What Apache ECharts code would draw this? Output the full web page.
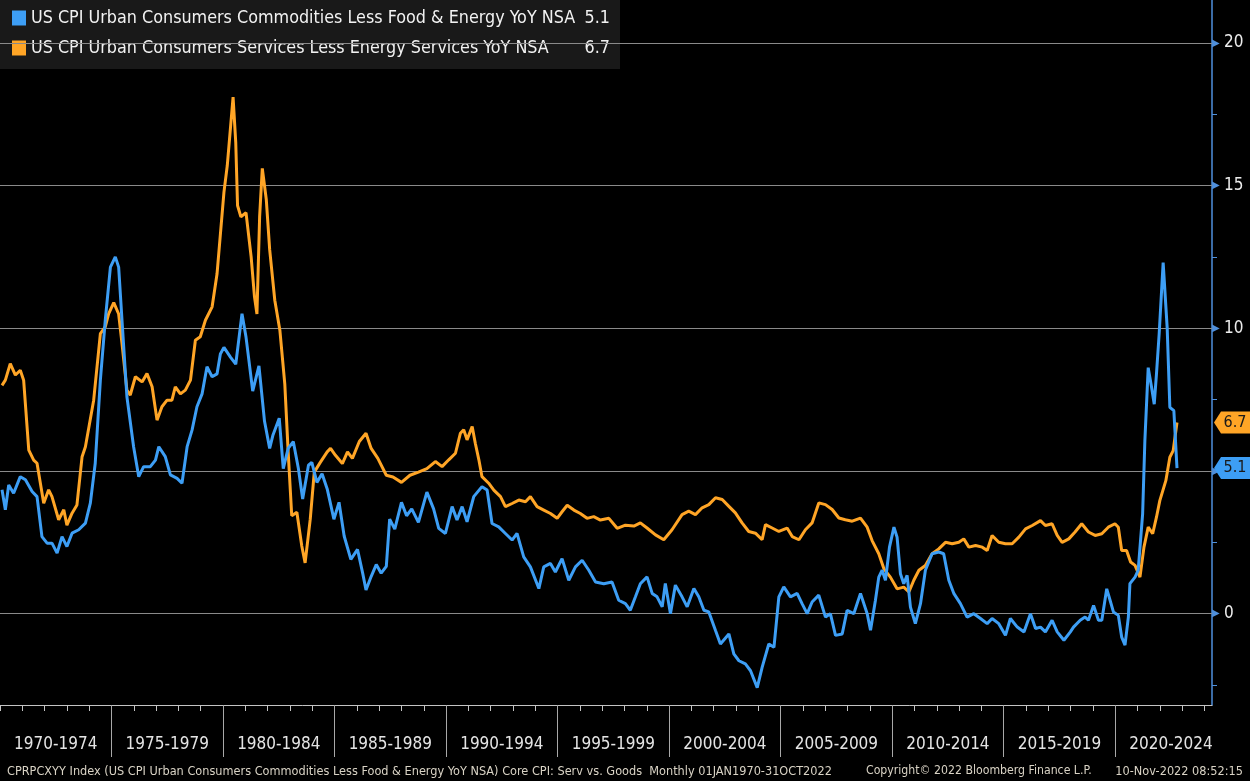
<!DOCTYPE html>
<html>
<head>
<meta charset="utf-8">
<title>Core CPI: Serv vs. Goods</title>
<script src="https://cdn.jsdelivr.net/npm/echarts@6/dist/echarts.min.js"></script>
<style>
  html, body { margin: 0; padding: 0; background: #000; }
  #chart { width: 1250px; height: 781px; }
</style>
</head>
<body>
<div id="chart"></div>
<script>
var goodsName = 'US CPI Urban Consumers Commodities Less Food & Energy YoY NSA';
var servName = 'US CPI Urban Consumers Services Less Energy Services YoY NSA';

var periodLabels = ['1970-1974', '1975-1979', '1980-1984', '1985-1989', '1990-1994', '1995-1999',
    '2000-2004', '2005-2009', '2010-2014', '2015-2019', '2020-2024'];
var yTicks = [0, 5, 10, 15, 20];
var yMinorTicks = [-2.5, 2.5, 7.5, 12.5, 17.5];

// [decimal year, YoY %]
var goods = [
    [1970.09,4.34],[1970.24,3.64],[1970.39,4.51],[1970.61,4.22],[1970.91,4.8],[1971.14,4.69],[1971.44,4.28],[1971.66,4.1],
    [1971.88,2.7],[1972.11,2.47],[1972.33,2.47],[1972.56,2.12],[1972.78,2.7],[1973.0,2.35],[1973.23,2.82],[1973.53,2.94],
    [1973.83,3.17],[1974.05,3.87],[1974.27,5.27],[1974.5,8.18],[1974.72,10.28],[1974.95,12.14],[1975.17,12.5],[1975.32,12.14],
    [1975.47,10.28],[1975.69,7.6],[1975.99,5.85],[1976.22,4.8],[1976.44,5.15],[1976.74,5.15],[1976.97,5.38],[1977.12,5.85],
    [1977.41,5.5],[1977.64,4.86],[1977.94,4.74],[1978.16,4.57],[1978.39,5.85],[1978.61,6.43],[1978.83,7.25],[1979.06,7.7],
    [1979.28,8.65],[1979.51,8.3],[1979.73,8.4],[1979.88,9.1],
    [1980.04,9.33],[1980.34,8.98],[1980.57,8.74],[1980.85,10.51],[1981.03,9.69],[1981.33,7.8],[1981.61,8.68],[1981.86,6.74],
    [1982.09,5.79],[1982.24,6.26],[1982.52,6.85],[1982.7,5.08],[1982.92,5.79],[1983.15,6.03],[1983.38,5.08],[1983.57,4.02],
    [1983.83,5.2],[1983.98,5.3],[1984.21,4.6],[1984.44,4.9],[1984.67,4.37],[1984.97,3.31],[1985.2,3.9],[1985.43,2.72],
    [1985.73,1.9],[1986.03,2.25],[1986.26,1.42],[1986.41,0.83],[1986.64,1.3],[1986.87,1.72],[1987.09,1.42],[1987.32,1.66],
    [1987.47,3.31],[1987.7,2.96],[1988.0,3.9],[1988.23,3.43],[1988.46,3.67],[1988.76,3.2],[1989.14,4.26],[1989.44,3.67],
    [1989.67,2.99],[1989.97,2.81],[1990.27,3.75],[1990.49,3.28],[1990.72,3.75],[1990.94,3.22],[1991.24,4.1],[1991.61,4.45],
    [1991.84,4.33],[1992.06,3.16],[1992.36,3.04],[1992.66,2.81],[1992.96,2.58],[1993.18,2.81],[1993.48,1.99],[1993.78,1.64],
    [1994.16,0.88],[1994.38,1.64],[1994.68,1.76],[1994.9,1.46],[1995.2,1.93],[1995.5,1.17],[1995.8,1.64],[1996.1,1.87],
    [1996.4,1.52],[1996.7,1.11],[1997.07,1.05],[1997.44,1.11],[1997.74,0.47],[1998.04,0.35],[1998.26,0.12],[1998.49,0.59],
    [1998.71,1.05],
    [1999.01,1.29],[1999.24,0.71],[1999.46,0.59],[1999.69,0.24],[1999.83,1.06],[2000.06,0.0],[2000.28,1.0],[2000.58,0.59],
    [2000.81,0.24],[2001.11,0.88],[2001.33,0.59],[2001.56,0.12],[2001.78,0.06],[2002.08,-0.59],[2002.3,-1.06],[2002.68,-0.71],
    [2002.9,-1.41],[2003.13,-1.65],[2003.42,-1.76],[2003.65,-2.0],[2003.95,-2.59],[2004.17,-1.88],[2004.47,-1.06],[2004.7,-1.18],
    [2004.92,0.59],[2005.14,0.94],[2005.44,0.59],[2005.74,0.71],[2005.96,0.35],[2006.19,0.0],[2006.41,0.41],[2006.71,0.65],
    [2007.01,-0.12],[2007.23,0.0],[2007.46,-0.76],[2007.76,-0.71],[2007.98,0.12],[2008.28,0.0],[2008.58,0.71],
    [2008.88,0.0],[2009.03,-0.58],[2009.25,0.47],[2009.4,1.28],[2009.55,1.52],[2009.7,1.17],[2009.88,2.33],[2010.08,3.03],
    [2010.22,2.68],[2010.37,1.4],[2010.52,1.05],[2010.67,1.34],[2010.82,0.23],[2011.04,-0.35],[2011.27,0.35],[2011.49,1.52],
    [2011.79,2.1],[2012.09,2.16],[2012.31,2.1],[2012.54,1.17],[2012.77,0.7],[2013.06,0.35],[2013.36,-0.12],[2013.66,0.0],
    [2013.96,-0.17],[2014.26,-0.35],[2014.48,-0.17],[2014.78,-0.35],[2015.08,-0.76],[2015.3,-0.17],[2015.61,-0.47],[2015.91,-0.64],
    [2016.2,0.0],[2016.43,-0.52],[2016.65,-0.47],[2016.87,-0.64],[2017.17,-0.23],[2017.4,-0.64],[2017.7,-0.93],[2017.99,-0.64],
    [2018.13,-0.47],[2018.43,-0.23],[2018.65,-0.12],[2018.8,-0.23],[2019.03,0.29],[2019.25,-0.23],[2019.4,-0.23],[2019.62,0.87],
    [2019.77,0.47],[2019.92,0.06],[2020.14,-0.06],[2020.29,-0.82],[2020.44,-1.1],[2020.59,-0.12],[2020.66,1.05],[2020.89,1.28],
    [2021.03,1.52],[2021.23,3.5],[2021.33,6.06],[2021.48,8.62],[2021.63,7.93],[2021.75,7.34],[2021.85,8.39],[2021.97,9.79],
    [2022.15,12.3],[2022.33,10.02],[2022.45,7.23],[2022.63,7.11],[2022.77,5.1]
];

var services = [
    [1970.09,8.0],[1970.24,8.18],[1970.46,8.76],[1970.69,8.36],[1970.91,8.53],[1971.06,8.18],[1971.29,5.73],[1971.51,5.38],
    [1971.66,5.27],[1971.96,3.87],[1972.18,4.34],[1972.33,4.1],[1972.63,3.29],[1972.86,3.64],[1973.0,3.1],[1973.23,3.52],
    [1973.45,3.81],[1973.68,5.5],[1973.83,5.85],[1974.2,7.48],[1974.5,9.81],[1974.72,10.05],[1974.87,10.5],[1975.1,10.9],
    [1975.32,10.5],[1975.47,9.46],[1975.69,7.83],[1975.84,7.66],[1976.07,8.3],[1976.37,8.12],[1976.59,8.41],[1976.82,7.95],
    [1977.04,6.78],[1977.26,7.25],[1977.49,7.48],[1977.71,7.48],[1977.86,7.95],[1978.09,7.7],[1978.31,7.83],[1978.54,8.18],
    [1978.76,9.58],[1978.98,9.7],[1979.21,10.28],[1979.51,10.75],[1979.73,11.9],
    [1980.04,14.76],[1980.19,15.7],[1980.45,18.1],[1980.57,16.5],[1980.65,14.3],[1980.8,13.9],[1981.03,14.05],[1981.26,12.5],
    [1981.41,11.1],[1981.52,10.5],[1981.64,13.9],[1981.76,15.6],[1981.94,14.5],[1982.09,12.76],[1982.32,10.98],[1982.55,9.92],
    [1982.77,8.03],[1982.92,5.67],[1983.08,3.43],[1983.31,3.55],[1983.53,2.37],[1983.68,1.78],[1983.91,3.31],[1984.09,4.96],
    [1984.36,5.3],[1984.67,5.67],[1984.82,5.79],[1985.04,5.55],[1985.35,5.26],[1985.58,5.67],[1985.8,5.44],[1986.11,6.03],
    [1986.41,6.32],[1986.64,5.79],[1986.94,5.44],[1987.32,4.85],[1987.62,4.79],[1988.0,4.6],[1988.38,4.85],[1988.76,4.96],
    [1989.14,5.08],
    [1989.52,5.33],[1989.82,5.15],[1990.12,5.39],[1990.42,5.62],[1990.64,6.32],[1990.79,6.44],[1990.94,6.09],[1991.17,6.56],
    [1991.31,5.97],[1991.47,5.39],[1991.61,4.8],[1991.91,4.57],[1992.14,4.33],[1992.44,4.1],[1992.66,3.75],[1992.96,3.86],
    [1993.26,3.98],[1993.56,3.92],[1993.78,4.1],[1994.08,3.75],[1994.38,3.63],[1994.68,3.51],[1994.98,3.34],[1995.2,3.57],
    [1995.43,3.8],[1995.73,3.63],[1996.02,3.51],[1996.32,3.34],[1996.62,3.4],[1996.92,3.28],[1997.3,3.34],[1997.67,2.99],
    [1998.04,3.1],[1998.42,3.07],[1998.71,3.18],
    [1999.01,3.0],[1999.39,2.76],[1999.76,2.59],[2000.13,2.94],[2000.58,3.47],[2000.88,3.59],[2001.18,3.47],[2001.48,3.71],
    [2001.78,3.82],[2002.08,4.06],[2002.38,4.0],[2002.68,3.76],[2002.97,3.53],[2003.27,3.18],[2003.57,2.88],[2003.87,2.82],
    [2004.17,2.59],[2004.32,3.12],[2004.62,3.0],[2004.92,2.88],[2005.29,3.0],[2005.52,2.7],[2005.82,2.59],[2006.11,2.94],
    [2006.41,3.18],[2006.71,3.88],[2007.01,3.82],[2007.31,3.65],[2007.61,3.35],[2007.9,3.29],[2008.21,3.24],[2008.58,3.35],
    [2008.88,3.03],[2009.1,2.56],[2009.4,2.1],[2009.63,1.57],[2009.92,1.28],[2010.22,0.87],[2010.52,0.93],[2010.75,0.76],
    [2010.97,1.17],[2011.2,1.52],[2011.49,1.69],[2011.79,2.1],[2012.09,2.27],[2012.39,2.5],[2012.69,2.45],[2012.99,2.5],
    [2013.21,2.62],[2013.44,2.33],[2013.74,2.39],[2014.04,2.33],[2014.26,2.21],[2014.48,2.74],[2014.78,2.5],[2015.08,2.45],
    [2015.38,2.45],[2015.68,2.68],[2015.98,2.97],[2016.28,3.09],[2016.65,3.26],[2016.87,3.09],[2017.17,3.15],[2017.4,2.74],
    [2017.62,2.5],[2017.92,2.62],
    [2018.2,2.86],[2018.5,3.15],[2018.8,2.86],[2019.1,2.74],[2019.4,2.8],[2019.69,3.03],[2019.99,3.15],[2020.14,3.03],
    [2020.29,2.21],[2020.51,2.21],[2020.69,1.81],[2020.89,1.69],[2021.11,1.28],[2021.29,2.33],[2021.48,3.03],[2021.68,2.8],
    [2021.85,3.38],[2022.0,3.96],[2022.27,4.66],[2022.45,5.48],[2022.6,5.71],[2022.77,6.7]
];

var footerLeft = 'CPRPCXYY Index (US CPI Urban Consumers Commodities Less Food & Energy YoY NSA) Core CPI: Serv vs. Goods  Monthly 01JAN1970-31OCT2022';
var footerMid = 'Copyright\u00A9 2022 Bloomberg Finance L.P.';
var footerRight = '10-Nov-2022 08:52:15';

var BLUE = '#3d9ef5';
var ORANGE = '#ffa526';
var AXISBLUE = '#4f8fdc';
var FONT = '"DejaVu Sans Condensed", "Liberation Sans Narrow", sans-serif';

var xMin = 1970, xMax = 2024.34;
var yearTicks = [];
for (var y = 1970; y <= 2024; y++) yearTicks.push(y);
var blockStarts = periodLabels.map(function (p) { return +p.slice(0, 4); });
var blockMids = blockStarts.map(function (s) { return s + 2.5; });
var separators = blockStarts.slice(1);

var lastGoods = goods[goods.length - 1][1];
var lastServ = services[services.length - 1][1];
var legendValues = {};
legendValues[goodsName] = lastGoods.toFixed(1);
legendValues[servName] = lastServ.toFixed(1);

function tag(color, value) {
    return {
        symbol: 'path://M0,11 L7,0 L36,0 L36,22 L7,22 Z',
        symbolSize: [36, 22],
        symbolOffset: [20, 0],
        silent: true,
        itemStyle: { color: color },
        label: {
            show: true, position: 'inside', offset: [3, 0],
            color: '#1a1a1a', fontSize: 16, fontFamily: FONT,
            formatter: value.toFixed(1)
        },
        data: [{ coord: [xMax, value], value: value }]
    };
}

var footStyle = { color: '#d9d3c5', fontSize: 12.6, fontWeight: 'normal', fontFamily: FONT };
var midFootStyle = { color: '#d9d3c5', fontSize: 12.2, fontWeight: 'normal', fontFamily: FONT };

var chart = echarts.init(document.getElementById('chart'));
chart.setOption({
    backgroundColor: '#000',
    animation: false,
    title: [
        { text: footerLeft, left: 2, top: 760, textStyle: footStyle },
        { text: footerMid, left: 861, top: 760, textStyle: midFootStyle },
        { text: footerRight, right: 2, top: 760, textStyle: footStyle }
    ],
    legend: {
        left: 0, top: 0,
        orient: 'vertical',
        backgroundColor: '#191919',
        padding: [9, 10, 12, 12],
        itemGap: 12,
        itemWidth: 14, itemHeight: 15,
        icon: 'rect',
        selectedMode: false,
        data: [goodsName, servName],
        formatter: function (name) {
            return '{n|' + name + '}{v|' + legendValues[name] + '}';
        },
        textStyle: {
            color: '#f2f2f2', fontSize: 17.8, fontFamily: FONT,
            rich: {
                n: { width: 554, fontSize: 17.8, fontFamily: FONT, color: '#f2f2f2' },
                v: { width: 25, align: 'right', fontSize: 17.8, fontFamily: FONT, color: '#f2f2f2' }
            }
        }
    },
    grid: { left: -3, right: 38, top: 0, bottom: 76, containLabel: false },
    xAxis: [{
        type: 'value', min: xMin, max: xMax, position: 'bottom',
        axisLine: { show: true, onZero: false, lineStyle: { color: '#c4c4c4', width: 1 } },
        axisTick: { show: true, customValues: yearTicks, length: 6, lineStyle: { color: '#c4c4c4' } },
        axisLabel: { show: false },
        splitLine: { show: false }
    }, {
        type: 'value', min: xMin, max: xMax, position: 'bottom',
        axisLine: { show: false, onZero: false },
        axisTick: { show: true, customValues: separators, length: 52, lineStyle: { color: '#a8a8a8' } },
        axisLabel: {
            show: true, customValues: blockMids, margin: 31,
            color: '#e4e4e4', fontSize: 17, fontFamily: FONT,
            formatter: function (v) { return periodLabels[blockMids.indexOf(v)]; }
        },
        splitLine: { show: false }
    }],
    yAxis: {
        type: 'value', min: -3.2, max: 21.5, position: 'right',
        axisLine: { show: true, onZero: false, lineStyle: { color: AXISBLUE, width: 1.5 } },
        axisTick: { show: true, customValues: yMinorTicks, length: 5, lineStyle: { color: AXISBLUE } },
        axisLabel: {
            show: true, customValues: yTicks, margin: 0,
            formatter: function (v) { return '{t|\u25B6}{v|' + v + '}'; },
            rich: {
                t: { color: AXISBLUE, fontSize: 10, padding: [0, 4, 0, 0] },
                v: { color: '#ececec', fontSize: 17, fontFamily: FONT }
            }
        },
        splitLine: { show: false }
    },
    series: [{
        name: 'grid', type: 'line', data: [], silent: true,
        markLine: {
            silent: true, symbol: 'none',
            label: { show: false },
            lineStyle: { color: '#8a8a8a', width: 1, type: 'solid' },
            data: yTicks.map(function (v) { return { yAxis: v }; })
        }
    }, {
        name: goodsName, type: 'line', data: goods, z: 10,
        showSymbol: false, symbol: 'none',
        lineStyle: { color: BLUE, width: 3 }, itemStyle: { color: BLUE },
        markPoint: tag(BLUE, lastGoods)
    }, {
        name: servName, type: 'line', data: services, z: 9,
        showSymbol: false, symbol: 'none',
        lineStyle: { color: ORANGE, width: 3 }, itemStyle: { color: ORANGE },
        markPoint: tag(ORANGE, lastServ)
    }]
});
</script>
</body>
</html>
